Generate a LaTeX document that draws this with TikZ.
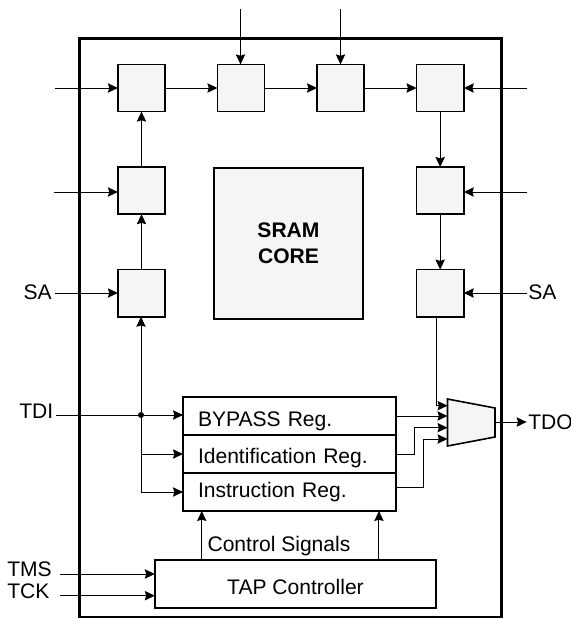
\documentclass[tikz,border=0pt]{standalone}
\usepackage{fontspec}
\setmainfont{Liberation Sans}
\usetikzlibrary{positioning, arrows.meta}

\newcommand{\lowertxt}[2]{\raisebox{-#1}[0pt][0pt]{#2}}

\tikzset{
  sq/.style={draw, line width=1.2pt, fill=black!4, minimum size=35.4pt, inner sep=0pt, outer sep=0pt},
  regrow/.style={draw, line width=1.2pt, outer sep=0pt, inner ysep=0pt, inner xsep=11.25pt,
    text width=137.25pt, minimum height=28.5pt, align=left, font=\fontsize{15.8}{18}\selectfont},
  sig/.style={line width=0.75pt, -{Stealth[length=7.5pt, width=7pt, inset=1pt]}},
  lbl/.style={inner sep=0pt, font=\fontsize{15.8}{18}\selectfont},
  jdot/.style={circle, fill=black, inner sep=0pt, minimum size=4.5pt}
}

\begin{document}
\begin{tikzpicture}[x=0.75pt, y=-0.75pt]
  \useasboundingbox (0,0) rectangle (571,619);
  \node [draw, line width=2pt, minimum width=316.5pt, minimum height=434pt, outer sep=0pt] (chip) at (290.25,327.75) {};

  % ring of boundary cells
  \node [sq] (tl) at (141.5,88) {};
  \node [sq, right=1.38 cm of tl] (tm1) {};
  \node [sq, right=1.38 cm of tm1] (tm2) {};
  \node [sq, right=1.38 cm of tm2] (tr) {};
  \node [sq, below=1.46 cm of tl] (ml) {};
  \node [sq, below=1.46 cm of ml] (sl) {};
  \node [sq, below=1.46 cm of tr] (mr) {};
  \node [sq, below=1.46 cm of mr] (sr) {};
  \node [draw, line width=1.2pt, fill=black!4, minimum width=112pt, minimum height=113pt, outer sep=0pt,
    align=center, font=\fontsize{15.8}{19.5}\selectfont\bfseries] (core) at (288.5,243.5) {SRAM\\CORE};

  % registers
  \node [regrow] (byp) at (289.5,416) {\lowertxt{8pt}{BYPASS Reg.}};
  \node [regrow, below=0 cm of byp] (idn) {\lowertxt{6.75pt}{Identification Reg.}};
  \node [regrow, below=0 cm of idn] (ins) {\lowertxt{4.3pt}{Instruction Reg.}};
  \node [draw, line width=1.2pt, minimum width=211pt, minimum height=36pt, outer sep=0pt,
    font=\fontsize{15.8}{18}\selectfont] (tap) at (295.5,584) {\lowertxt{7.5pt}{TAP Controller}};
  \node [lbl, anchor=base] (ctl) at (279,551.7) {Control Signals};

  % output mux
  \coordinate (m1) at (447.5,399);
  \coordinate (m2) at (495,408);
  \coordinate (m3) at (495,437);
  \coordinate (m4) at (447.5,446);
  \coordinate (mo) at (495,422);
  \draw [line width=1.2pt, fill=black!4] (m1) -- (m2) -- (m3) -- (m4) -- cycle;

  % pin labels
  \node [lbl, anchor=east] (sal) at (52,292) {SA};
  \node [lbl, anchor=west] (sar) at (528,292) {SA};
  \node [lbl, anchor=east] (tdi) at (53.5,411.5) {TDI};
  \node [lbl, anchor=west] (tdo) at (528,422) {TDO};
  \node [lbl, anchor=west] (tms) at (7,569.5) {TMS};
  \node [lbl, anchor=west] (tck) at (7,591.5) {TCK};

  % free ends
  \coordinate (itl) at (55,88);
  \coordinate (iml) at (54,192);
  \coordinate (isl) at (55,293);
  \coordinate (itr) at (527,88);
  \coordinate (imr) at (527,192);
  \coordinate (isr) at (527,293);
  \coordinate (im1) at (240.5,9);
  \coordinate (im2) at (340.5,9);
  \coordinate (itms) at (60,574);
  \coordinate (itck) at (60,595.7);
  \coordinate (itd) at (56,415);

  \draw [sig] (itl) -- (itl -| tl.west);
  \draw [sig] (iml) -- (iml -| ml.west);
  \draw [sig] (isl) -- (isl -| sl.west);
  \draw [sig] (itr) -- (itr -| tr.east);
  \draw [sig] (imr) -- (imr -| mr.east);
  \draw [sig] (isr) -- (isr -| sr.east);
  \draw [sig] (im1) -- (im1 |- tm1.north);
  \draw [sig] (im2) -- (im2 |- tm2.north);
  \draw [sig] (tl.east) -- (tm1.west);
  \draw [sig] (tm1.east) -- (tm2.west);
  \draw [sig] (tm2.east) -- (tr.west);
  \draw [sig] (ml.north) -- (tl.south);
  \draw [sig] (sl.north) -- (ml.south);
  \draw [sig] (tr.south) -- (mr.north);
  \draw [sig] (mr.south) -- (sr.north);

  % TDI fan out
  \node [jdot] (tj) at (141,415) {};
  \draw [line width=0.75pt] (itd) -- (tj);
  \draw [sig] (tj) -- (tj -| byp.west);
  \draw [sig] (tj) -- (tj |- sl.south);
  \draw [sig] (tj) |- (idn.west);
  \draw [sig] (tj) |- (ins.west);

  % into the mux
  \coordinate (i1) at (447.5,405.7);
  \coordinate (i3) at (447.5,427.7);
  \coordinate (i4) at (447.5,439);
  \coordinate (b3) at (414,427.7);
  \coordinate (b4) at (423,439);
  \draw [sig] ([xshift=-3pt]sr.south) |- (i1);
  \draw [sig] (byp.east) -- (byp.east -| m1);
  \draw [sig] (idn.east) -| (b3) -- (i3);
  \draw [sig] ([yshift=3.5pt]ins.east) -| (b4) -- (i4);
  \draw [sig] (mo) -- ([xshift=-1pt]tdo.west);

  % TAP
  \draw [sig] (itms) -- (itms -| tap.west);
  \draw [sig] (itck) -- (itck -| tap.west);
  \draw [sig] ([xshift=-70.3pt]tap.north) -- ([xshift=-70.3pt]tap.north |- ins.south);
  \draw [sig] ([xshift=62.6pt]tap.north) -- ([xshift=62.6pt]tap.north |- ins.south);
\end{tikzpicture}
\end{document}
